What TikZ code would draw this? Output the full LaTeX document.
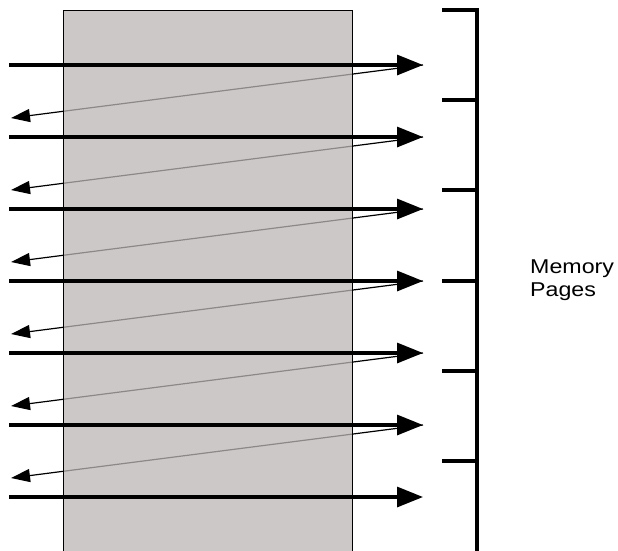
\documentclass[tikz,border=0pt]{standalone}
\usepackage{fontspec}
\setmainfont{Liberation Sans}
\newfontfamily\lblfont[FakeStretch=1.16]{Liberation Sans}
\usetikzlibrary{arrows.meta}
\definecolor{rectfill}{RGB}{187,182,182}
\begin{document}
\begin{tikzpicture}[x=1pt,y=-1pt,
  fwd/.style={line width=3.2pt,-{Triangle[length=26pt,width=20pt]}},
  back/.style={line width=1.2pt,-{Triangle[length=19pt,width=13pt]}},
  brk/.style={line width=3.4pt,line join=miter},
  region/.style={fill=rectfill,fill opacity=0.75,draw=black,line width=1.2pt}]
\useasboundingbox (0,0) rectangle (618,550);
\clip (0,0) rectangle (618,550);
% coordinates for forward arrows
\foreach \i in {0,...,6}{
  \pgfmathsetmacro\yy{65+72*\i}
  \coordinate (s\i) at (9,\yy);
  \coordinate (t\i) at (423,\yy);
}
% return arrows (under the region)
\foreach \i in {0,...,5}{
  \pgfmathsetmacro\yy{65+72*\i+53}
  \coordinate (r\i) at (11,\yy);
  \draw[back] (t\i) -- (r\i);
}
% region
\node[region,minimum width=289pt,minimum height=550pt,anchor=north west,inner sep=0pt] (buf) at (63,10) {};
% forward arrows
\foreach \i in {0,...,6}{
  \draw[fwd] (s\i) -- (t\i);
}
% bracket
\coordinate (btop) at (477,10);
\coordinate (bbot) at (477,553);
\draw[brk] (442,10) -- (btop) -- (bbot);
\foreach \yy in {100,190,281,371,461}{
  \draw[line width=3.2pt] (442,\yy) -- (477,\yy);
}
\node[anchor=base west,align=left,inner sep=0pt,font=\lblfont\fontsize{20}{23.4}\selectfont] (label) at (530,296.7) {Memory\\Pages};
\end{tikzpicture}
\end{document}
